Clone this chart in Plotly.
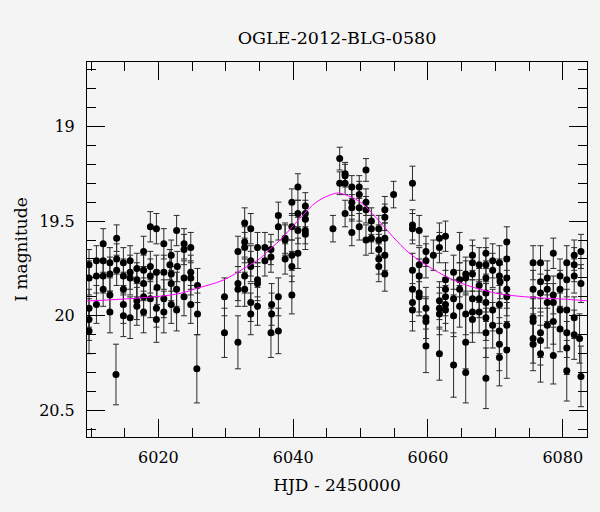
import plotly.graph_objects as go

hjd = [
    6009.7, 6009.7, 6009.7, 6009.7, 6009.7, 6010.8, 6010.8, 6010.8, 6011.8, 6011.8,
    6011.8, 6011.8, 6012.8, 6012.8, 6012.8, 6012.8, 6013.8, 6013.8, 6013.8, 6013.7,
    6014.8, 6014.8, 6014.8, 6014.8, 6014.8, 6015.8, 6015.8, 6015.8, 6015.8, 6016.8,
    6016.8, 6016.8, 6016.8, 6017.8, 6017.8, 6017.8, 6017.8, 6017.8, 6018.8, 6018.8,
    6018.8, 6018.8, 6019.7, 6019.7, 6019.8, 6019.7, 6019.7, 6020.8, 6020.8, 6020.8,
    6020.8, 6021.9, 6021.7, 6021.9, 6021.9, 6021.9, 6022.7, 6022.8, 6022.7, 6022.7,
    6023.8, 6023.8, 6023.8, 6023.8, 6024.8, 6024.8, 6024.8, 6024.8, 6025.8, 6025.8,
    6025.7, 6029.8, 6029.8, 6031.8, 6031.8, 6031.8, 6031.8, 6032.8, 6032.8, 6032.8,
    6032.8, 6032.8, 6033.7, 6033.7, 6033.7, 6033.7, 6033.7, 6034.7, 6034.7, 6034.7,
    6034.7, 6035.8, 6035.8, 6036.7, 6036.7, 6036.8, 6036.8, 6036.7, 6037.8, 6037.8,
    6037.8, 6037.8, 6038.8, 6038.8, 6038.8, 6039.8, 6039.8, 6039.8, 6039.8, 6039.8,
    6040.7, 6040.7, 6040.7, 6040.7, 6041.8, 6041.8, 6041.8, 6041.8, 6041.8, 6045.9,
    6046.9, 6046.9, 6047.7, 6047.7, 6047.7, 6047.7, 6048.7, 6048.7, 6048.7, 6048.7,
    6049.8, 6049.8, 6049.8, 6049.8, 6050.8, 6050.8, 6050.8, 6050.8, 6051.6, 6051.6,
    6051.6, 6052.7, 6052.7, 6052.7, 6052.7, 6052.7, 6053.6, 6053.6, 6053.6, 6053.6,
    6053.6, 6054.9, 6057.7, 6057.7, 6057.7, 6057.7, 6057.7, 6057.7, 6057.7, 6058.7,
    6058.7, 6058.7, 6058.7, 6058.7, 6059.7, 6059.7, 6059.7, 6059.7, 6059.7, 6059.7,
    6060.8, 6061.7, 6061.7, 6061.7, 6061.7, 6061.7, 6061.7, 6062.6, 6062.6, 6062.6,
    6062.6, 6062.6, 6062.6, 6063.8, 6063.8, 6063.8, 6063.8, 6064.7, 6064.7, 6064.7,
    6064.7, 6065.6, 6065.6, 6065.6, 6065.6, 6065.6, 6066.6, 6066.6, 6066.6, 6066.6,
    6066.6, 6066.6, 6067.6, 6067.6, 6067.6, 6067.6, 6068.6, 6068.6, 6068.6, 6068.6,
    6068.6, 6068.6, 6068.6, 6068.6, 6069.6, 6069.6, 6069.6, 6069.6, 6070.6, 6070.6,
    6070.6, 6070.6, 6070.6, 6070.7, 6070.6, 6071.7, 6071.7, 6071.7, 6071.7, 6071.7,
    6071.7, 6071.7, 6075.6, 6075.6, 6075.6, 6075.6, 6075.6, 6075.6, 6076.7, 6076.7,
    6076.7, 6076.7, 6076.7, 6076.7, 6077.7, 6077.7, 6077.7, 6077.7, 6078.6, 6078.6,
    6078.6, 6078.6, 6078.6, 6079.6, 6079.6, 6079.6, 6079.6, 6080.6, 6080.6, 6080.6,
    6080.6, 6080.6, 6080.6, 6081.7, 6081.7, 6081.7, 6081.7, 6081.7, 6082.5, 6082.7,
    6082.7, 6082.7,
]

mag = [
    19.73, 19.80, 19.96, 20.02, 20.08, 19.71, 19.79, 19.94, 19.62, 19.71,
    19.79, 19.86, 19.72, 19.78, 19.89, 19.98, 19.59, 19.70, 19.76, 20.31,
    19.72, 19.79, 19.86, 19.94, 20.00, 19.71, 19.77, 19.80, 20.01, 19.75,
    19.81, 19.92, 19.95, 19.66, 19.76, 19.83, 19.90, 19.98, 19.53, 19.74,
    19.79, 19.91, 19.54, 19.77, 19.85, 19.96, 20.02, 19.62, 19.77, 19.91,
    19.98, 19.68, 19.73, 19.78, 19.83, 19.94, 19.55, 19.74, 19.86, 19.97,
    19.62, 19.65, 19.80, 19.90, 19.64, 19.77, 19.80, 19.94, 19.84, 19.99,
    20.28, 19.90, 20.09, 19.66, 19.83, 19.86, 20.14, 19.51, 19.61, 19.64,
    19.79, 19.86, 19.54, 19.71, 19.74, 19.93, 19.99, 19.64, 19.81, 19.83,
    19.95, 19.64, 19.71, 19.65, 19.69, 19.94, 19.99, 20.09, 19.47, 19.53,
    19.90, 20.08, 19.59, 19.60, 19.70, 19.40, 19.53, 19.68, 19.74, 19.89,
    19.32, 19.46, 19.55, 19.67, 19.42, 19.46, 19.49, 19.55, 19.57, 19.54,
    19.17, 19.30, 19.25, 19.26, 19.30, 19.46, 19.32, 19.40, 19.43, 19.56,
    19.32, 19.36, 19.43, 19.53, 19.23, 19.40, 19.44, 19.60, 19.50, 19.54,
    19.59, 19.54, 19.60, 19.65, 19.70, 19.74, 19.44, 19.48, 19.59, 19.68,
    19.78, 19.36, 19.30, 19.52, 19.54, 19.76, 19.86, 19.93, 19.97, 19.55,
    19.73, 19.79, 19.88, 19.90, 19.66, 19.71, 19.96, 20.01, 20.03, 20.16,
    19.68, 19.59, 19.64, 19.92, 19.96, 19.99, 20.20, 19.58, 19.81, 19.86,
    19.90, 19.94, 19.97, 19.77, 19.91, 20.00, 20.26, 19.64, 19.81, 19.86,
    19.95, 19.78, 19.80, 19.99, 20.14, 20.30, 19.68, 19.72, 19.78, 19.91,
    19.98, 20.02, 19.73, 19.84, 19.91, 19.98, 19.67, 19.73, 19.80, 19.88,
    19.93, 20.01, 20.09, 20.33, 19.71, 19.76, 19.97, 20.05, 19.72, 19.79,
    19.94, 20.08, 20.22, 19.82, 20.15, 19.61, 19.70, 19.80, 19.86, 19.90,
    20.05, 20.18, 19.72, 19.86, 20.01, 20.03, 20.12, 20.15, 19.72, 19.82,
    19.88, 20.09, 20.13, 20.20, 19.80, 19.86, 19.93, 20.05, 19.67, 19.89,
    19.93, 20.03, 20.21, 19.79, 19.86, 19.97, 20.07, 19.72, 19.81, 19.97,
    20.09, 20.17, 20.29, 19.68, 19.73, 19.79, 20.01, 20.10, 20.12, 19.66,
    19.83, 20.32,
]

mag_err = [
    0.08, 0.09, 0.10, 0.11, 0.12, 0.08, 0.09, 0.10, 0.08, 0.08,
    0.09, 0.09, 0.08, 0.09, 0.10, 0.11, 0.07, 0.08, 0.08, 0.16,
    0.08, 0.09, 0.09, 0.10, 0.11, 0.08, 0.09, 0.09, 0.11, 0.08,
    0.09, 0.10, 0.10, 0.08, 0.08, 0.09, 0.10, 0.11, 0.08, 0.08,
    0.09, 0.10, 0.08, 0.09, 0.09, 0.10, 0.12, 0.08, 0.09, 0.10,
    0.11, 0.08, 0.08, 0.09, 0.09, 0.10, 0.08, 0.08, 0.09, 0.11,
    0.08, 0.08, 0.09, 0.10, 0.08, 0.09, 0.09, 0.10, 0.09, 0.11,
    0.18, 0.10, 0.13, 0.08, 0.09, 0.09, 0.14, 0.08, 0.08, 0.08,
    0.09, 0.09, 0.08, 0.08, 0.08, 0.10, 0.11, 0.08, 0.09, 0.09,
    0.10, 0.08, 0.08, 0.08, 0.08, 0.11, 0.11, 0.13, 0.07, 0.07,
    0.10, 0.12, 0.08, 0.08, 0.08, 0.07, 0.07, 0.08, 0.08, 0.10,
    0.07, 0.07, 0.07, 0.08, 0.07, 0.07, 0.07, 0.07, 0.08, 0.07,
    0.06, 0.06, 0.06, 0.06, 0.06, 0.07, 0.06, 0.07, 0.07, 0.07,
    0.06, 0.07, 0.07, 0.07, 0.06, 0.07, 0.07, 0.08, 0.07, 0.07,
    0.08, 0.07, 0.08, 0.08, 0.08, 0.08, 0.07, 0.07, 0.08, 0.08,
    0.09, 0.07, 0.09, 0.08, 0.08, 0.09, 0.10, 0.10, 0.11, 0.08,
    0.09, 0.09, 0.10, 0.10, 0.08, 0.09, 0.11, 0.11, 0.12, 0.14,
    0.08, 0.08, 0.08, 0.10, 0.11, 0.11, 0.14, 0.08, 0.09, 0.10,
    0.10, 0.10, 0.11, 0.09, 0.10, 0.11, 0.17, 0.08, 0.09, 0.10,
    0.11, 0.09, 0.09, 0.11, 0.14, 0.16, 0.08, 0.09, 0.09, 0.10,
    0.11, 0.12, 0.09, 0.09, 0.10, 0.11, 0.08, 0.09, 0.09, 0.10,
    0.10, 0.12, 0.13, 0.16, 0.09, 0.09, 0.11, 0.12, 0.09, 0.09,
    0.10, 0.12, 0.15, 0.09, 0.14, 0.08, 0.09, 0.09, 0.10, 0.10,
    0.12, 0.15, 0.09, 0.10, 0.11, 0.12, 0.13, 0.14, 0.09, 0.09,
    0.10, 0.13, 0.13, 0.15, 0.09, 0.10, 0.10, 0.12, 0.08, 0.10,
    0.10, 0.12, 0.15, 0.09, 0.10, 0.11, 0.12, 0.09, 0.09, 0.11,
    0.13, 0.14, 0.16, 0.08, 0.09, 0.09, 0.11, 0.13, 0.13, 0.09,
    0.10, 0.16,
]

model_hjd = [6009.4, 6018.3, 6023.2, 6025.7, 6029.6, 6033.1, 6035.1, 6036.1, 6038.0,
             6041.0, 6043.5, 6045.9, 6046.7, 6047.4, 6049.9, 6052.4, 6054.8, 6057.3,
             6060.8, 6063.3, 6065.7, 6068.2, 6070.7, 6075.6, 6080.6, 6083.7]
model_mag = [19.922, 19.903, 19.882, 19.855, 19.812, 19.741, 19.697, 19.662, 19.602,
             19.486, 19.398, 19.357, 19.352, 19.357, 19.398, 19.486, 19.583, 19.671,
             19.755, 19.803, 19.838, 19.864, 19.885, 19.903, 19.913, 19.921]

title_text = "OGLE-2012-BLG-0580"
x_title = "HJD - 2450000"
y_title = "I magnitude"

FONT = "DejaVu Serif"
BG = "#f4f4f4"

fig = go.Figure()
fig.add_trace(go.Scatter(
    x=hjd, y=mag, mode="markers",
    marker=dict(color="black", size=7),
    error_y=dict(type="data", array=mag_err, visible=True, color="#2a2a2a",
                 thickness=1, width=3),
    showlegend=False,
))
fig.add_trace(go.Scatter(
    x=model_hjd, y=model_mag, mode="lines",
    line=dict(color="#ff00ff", width=1, shape="spline", smoothing=1.0),
    showlegend=False,
))

fig.update_layout(
    width=600, height=512,
    paper_bgcolor=BG, plot_bgcolor=BG,
    margin=dict(l=87, r=13, t=62, b=75),
    font=dict(family=FONT, size=16, color="black"),
    title=dict(text=title_text, x=0.5, xref="paper",
               xanchor="center", y=1 - 38 / 512, yref="container", yanchor="middle",
               font=dict(family=FONT, size=17.5, color="black")),
    xaxis=dict(
        range=[6009.4, 6083.6], showgrid=False, zeroline=False,
        showline=True, linecolor="black", linewidth=1, mirror="allticks",
        ticks="inside", ticklen=18, tickwidth=1, tickcolor="black",
        tick0=6000, dtick=20,
        minor=dict(ticks="inside", ticklen=9, dtick=5, tick0=6000, tickcolor="black", showgrid=False),
        tickfont=dict(family=FONT, size=16), ticklabelstandoff=6,
        title=dict(text=x_title, font=dict(family=FONT, size=17), standoff=12),
    ),
    yaxis=dict(
        range=[20.64, 18.66], showgrid=False, zeroline=False,
        showline=True, linecolor="black", linewidth=1, mirror="allticks",
        ticks="inside", ticklen=18, tickwidth=1, tickcolor="black",
        tick0=19, dtick=0.5,
        minor=dict(ticks="inside", ticklen=9, dtick=0.1, tick0=19, tickcolor="black", showgrid=False),
        tickfont=dict(family=FONT, size=16), ticklabelstandoff=8,
        title=dict(text=y_title, font=dict(family=FONT, size=17), standoff=7),
    ),
)

fig.write_html(
    "out.html",
    config={"displayModeBar": False},
    post_script="document.body.style.margin='0';document.body.style.background='%s';" % BG,
)
